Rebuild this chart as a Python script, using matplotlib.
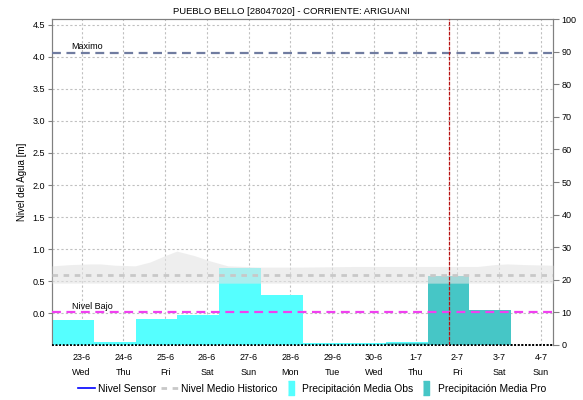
import numpy as np
import matplotlib
matplotlib.use('Agg')
import matplotlib.pyplot as plt
from matplotlib.lines import Line2D

plt.rcParams['font.family'] = ['Liberation Sans', 'DejaVu Sans']

# dias (indice 0 = 23-6)
dias = ['23-6\nWed', '24-6\nThu', '25-6\nFri', '26-6\nSat', '27-6\nSun', '28-6\nMon',
        '29-6\nTue', '30-6\nWed', '1-7\nThu', '2-7\nFri', '3-7\nSat', '4-7\nSun']

# precipitacion [mm]
obs_dias = [0, 1, 2, 3, 4, 5, 6, 7, 8]
obs_mm = [7.6, 0.8, 8.0, 9.1, 23.6, 15.3, 0.5, 0.5, 0.9]
pro_dias = [8, 9, 10]
pro_mm = [0.7, 21.1, 10.7]

# banda del nivel historico [m]
hist_x = [-0.71, -0.26, 0.2, 0.45, 0.8, 1.28, 1.64, 2.0, 2.28, 2.7, 3.06, 3.5, 4.3,
          5.2, 6.5, 8.0, 9.48, 9.9, 10.2, 10.6, 11.29]
hist_sup = [0.74, 0.76, 0.77, 0.77, 0.75, 0.74, 0.80, 0.90, 0.97, 0.90, 0.82, 0.74, 0.72,
            0.72, 0.73, 0.73, 0.73, 0.76, 0.77, 0.76, 0.75]
hist_inf = 0.47
hist_medio = 0.59

nivel_max = 4.06
nivel_bajo = 0.02
ahora = 8.8

sensor_x = []
sensor_y = []

fig = plt.figure(figsize=(5.83, 4.0), dpi=100)
rect = [52/583, 1-345/400, 501/583, 326/400]
ax = fig.add_axes(rect)
ax2 = ax.twinx()
ax3 = fig.add_axes(rect, sharex=ax, sharey=ax)
ax.set_zorder(1)
ax2.set_zorder(2)
ax3.set_zorder(3)
ax2.patch.set_visible(False)
ax3.patch.set_visible(False)
ax3.axis('off')

ax.set_xlim(-0.71, 11.29)
ax.set_ylim(-0.494, 4.588)
ax2.set_ylim(0, 100)

# rejilla
ax.grid(True, color='#c0c0c0', linestyle=(0, (2, 2)), linewidth=0.8)
ax.set_yticks(np.arange(0, 4.51, 0.5))
ax.set_yticklabels(['%.1f' % v for v in np.arange(0, 4.51, 0.5)])
ax.set_xticks(range(len(dias)))
ax.set_xticklabels(dias, linespacing=1.8)

# barras de precipitacion
ax2.bar(np.array(obs_dias) - 0.21, obs_mm, width=1.0, color='#55ffff', linewidth=0)
ax2.bar(np.array(pro_dias) - 0.21, pro_mm, width=1.0, color='#46c6c6', linewidth=0)
ax2.set_yticks(range(0, 101, 10))

# banda historica y lineas
ax3.fill_between(hist_x, hist_inf, hist_sup, color='#e4e4e4', alpha=0.6, linewidth=0)
ax3.axhline(hist_medio, color='#c8c8c8', linestyle=(0, (2, 2)), linewidth=2)
ax3.plot(sensor_x, sensor_y, color='blue')
ax3.axhline(nivel_max, color='#707ca0', linestyle=(0, (4, 2.5)), linewidth=1.6)
ax3.axhline(nivel_bajo, color='#f040f0', linestyle=(0, (4, 2.5)), linewidth=1.6)
ax3.axvline(ahora, color='#b81010', linestyle=(0, (3, 1)), linewidth=0.9)
ax3.text(-0.24, nivel_max + 0.035, 'Maximo', fontsize=6.5, va='bottom')
ax3.text(-0.23, nivel_bajo + 0.02, 'Nivel Bajo', fontsize=6.5, va='bottom')

# ejes
for a in (ax, ax2):
    for s in ('left', 'right', 'top'):
        a.spines[s].set_color('#808080')
    a.spines['bottom'].set_color('black')
    a.spines['bottom'].set_linestyle((0, (1, 1)))
    a.spines['bottom'].set_linewidth(1.3)
    a.spines['bottom'].set_capstyle('butt')
ax.tick_params(axis='y', labelsize=6.5, length=3, color='#808080', pad=2)
ax.tick_params(axis='x', labelsize=6.5, length=0, pad=6)
ax2.tick_params(axis='y', labelsize=6.5, length=4, color='#808080', pad=2)
ax.set_ylabel('Nivel del Agua [m]', fontsize=7)
ax.yaxis.set_label_coords(-0.05, 0.5)
ax2.set_ylabel('Precipitación [mm]', fontsize=7)
ax2.yaxis.set_label_coords(1.068, 0.5)

fig.suptitle('PUEBLO BELLO [28047020] - CORRIENTE: ARIGUANI', fontsize=6.8, y=1-11/400, va='center')

caja = [(-0.5, -1), (0.5, -1), (0.5, 1), (-0.5, 1)]
handles = [
    Line2D([], [], color='blue', linewidth=1.2),
    Line2D([], [], color='#c8c8c8', linestyle=(0, (2, 2)), linewidth=2),
    Line2D([], [], color='#55ffff', marker=caja, markersize=10, linestyle='none'),
    Line2D([], [], color='#46c6c6', marker=caja, markersize=10, linestyle='none'),
]
labels = ['Nivel Sensor', 'Nivel Medio Historico', 'Precipitación Media Obs', 'Precipitación Media Pro']
fig.legend(handles, labels, loc='center', bbox_to_anchor=(0.535, 1-389/400), ncol=4,
           frameon=False, fontsize=7.4, handlelength=1.7, handletextpad=0.25, columnspacing=0.45,
           borderpad=0)

fig.savefig('out.png', dpi=100)
